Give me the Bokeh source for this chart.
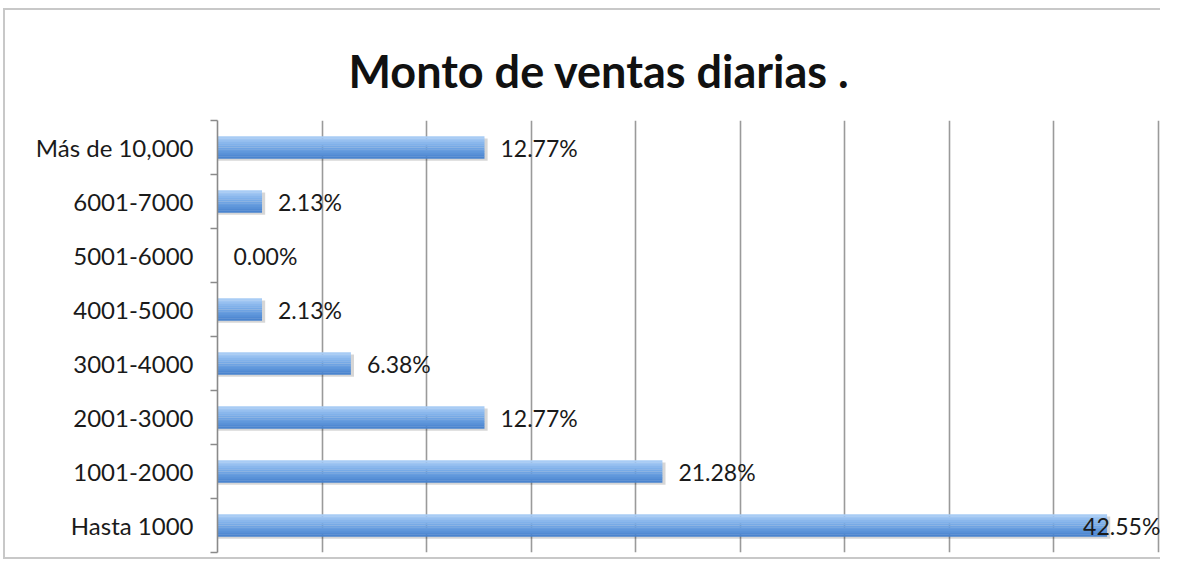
from bokeh.plotting import figure
from bokeh.models import ColumnDataSource, Range1d, FixedTicker, LinearAxis, CustomJSTickFormatter, LabelSet
from bokeh.core.properties import value
from bokeh.embed import file_html
from bokeh.resources import INLINE

categories = ["Hasta 1000", "1001-2000", "2001-3000", "3001-4000",
              "4001-5000", "5001-6000", "6001-7000", "Más de 10,000"]
values = [42.55, 21.28, 12.77, 6.38, 2.13, 0.00, 2.13, 12.77]
labels = ["42.55%", "21.28%", "12.77%", "6.38%", "2.13%", "0.00%", "2.13%", "12.77%"]
x_ticks = [0, 5, 10, 15, 20, 25, 30, 35, 40, 45]

XMAX = 45
ys = list(range(len(categories)))
FONT = "Lato"

p = figure(width=1157, height=551, x_range=Range1d(0, XMAX + 0.2),
           y_range=Range1d(-0.5, len(categories) - 0.5),
           output_backend="svg", toolbar_location=None,
           min_border_left=212, min_border_right=0, min_border_top=110, min_border_bottom=9)
p.outline_line_color = None
p.background_fill_color = "white"
p.border_fill_color = "white"
p.styles = {"margin-left": "3px", "margin-top": "8px",
            "border-left": "2px solid #c8c8c8", "border-top": "2px solid #c8c8c8",
            "border-bottom": "2px solid #c8c8c8", "border-right": "none"}

p.title.text = "Monto de ventas diarias ."
p.title.text_font = FONT
p.title.text_font_size = "45px"
p.title.text_font_style = "bold"
p.title.text_color = "#111111"
p.title.align = "left"
p.title.offset = 131
p.title.standoff = 45

# x axis (hidden), gridlines every 5%
p.xaxis.visible = False
p.xgrid.ticker = FixedTicker(ticks=x_ticks)
p.xgrid.grid_line_color = "#9a9a9a"
p.xgrid.grid_line_width = 1.6
p.ygrid.visible = False

# inner y axis: ticks at category boundaries, no labels
yax = p.yaxis[0]
yax.ticker = FixedTicker(ticks=[i - 0.5 for i in range(len(categories) + 1)], minor_ticks=[])
yax.formatter = CustomJSTickFormatter(code="return ''")
yax.axis_line_color = "#8a8a8a"
yax.axis_line_width = 1.6
yax.major_tick_line_color = "#8a8a8a"
yax.major_tick_line_width = 1.6
yax.major_tick_out = 7
yax.major_tick_in = 0
yax.major_label_standoff = 0

# outer y axis: category labels at centers
lab_ax = LinearAxis(ticker=FixedTicker(ticks=ys, minor_ticks=[]),
                    major_label_overrides={i: c for i, c in zip(ys, categories)},
                    axis_line_color=None, major_tick_line_color=None, minor_tick_line_color=None,
                    major_label_text_font=FONT, major_label_text_font_size="24px",
                    major_label_text_color="#1a1a1a", major_label_standoff=11)
p.add_layout(lab_ax, "left")

# bars: soft shadow + vertical gradient strips
BAR_H = 0.41
top_rgb = (0xa8, 0xcc, 0xf5)
mid_rgb = (0x72, 0xa7, 0xe6)
bot_rgb = (0x4a, 0x84, 0xcf)
n = 12
strip_colors = []
for k in range(n):
    t = k / (n - 1)  # 0 bottom -> 1 top
    if t < 0.5:
        a, b, u = bot_rgb, mid_rgb, t / 0.5
    else:
        a, b, u = mid_rgb, top_rgb, (t - 0.5) / 0.5
    strip_colors.append("#%02x%02x%02x" % tuple(int(a[i] + (b[i] - a[i]) * u) for i in range(3)))

src = ColumnDataSource(dict(y=ys, v=values, lbl=labels,
                            off=[16 if v + 4 < XMAX else -24 for v in values]))
p.hbar(y=[y - 0.04 for y in ys], left=0, right=[v + 0.15 if v > 0 else 0 for v in values],
       height=BAR_H, color="#000000", alpha=0.16, line_color=None)
for k, c in enumerate(strip_colors):
    off = -BAR_H / 2 + BAR_H / n * (k + 0.5)
    p.hbar(y=[y + off for y in ys], left=0, right=values, height=BAR_H / n + 0.004,
           color=c, line_color=None)

labs = LabelSet(x="v", y="y", text="lbl", x_offset="off", source=src,
                text_font=value(FONT), text_font_size=value("23px"), text_color="#1a1a1a",
                text_baseline="middle", text_align="left")
p.add_layout(labs)

open("out.html", "w").write(file_html(p, INLINE))
